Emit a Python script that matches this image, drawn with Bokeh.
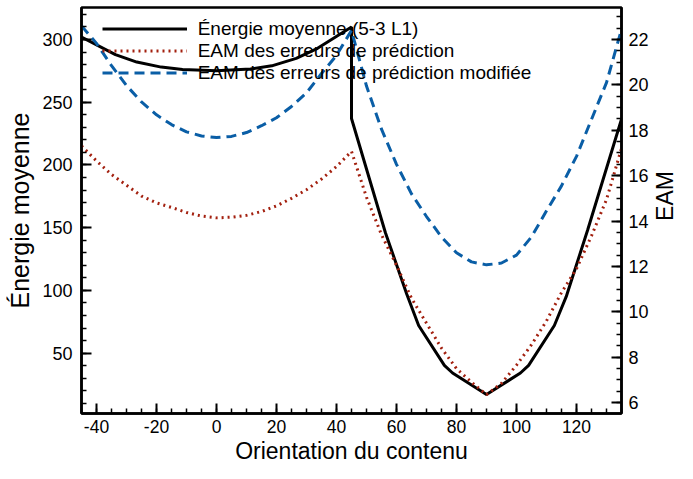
import math
from bokeh.plotting import figure
from bokeh.layouts import row
from bokeh.models import (Range1d, LinearAxis, SingleIntervalTicker, Legend, LegendItem,
                          PrintfTickFormatter, Title)
from bokeh.core.properties import value
from bokeh.embed import file_html
from bokeh.resources import INLINE

# --- data ---
energy_x = [-45, -33.69, -26.57, -18.43, -11.31, 0, 11.31, 18.43, 26.57, 33.69, 45,
            45, 56.31, 63.43, 67.38, 75.96, 78.69, 90, 101.31, 104.04, 112.62, 116.57, 123.69, 135]
energy_y = [302, 288, 282, 278, 276, 275, 276.5, 279, 285, 293, 310,
            237, 146, 97, 72, 40.3, 34.2, 17, 34.2, 40.3, 72, 95, 148, 236.5]

eam_x = [-45, -40, -35, -30, -25, -20, -15, -10, -5, 0, 5, 10, 15, 20, 25, 30, 35, 40, 45,
         50, 55, 60, 65, 70, 75, 80, 85, 90, 95, 100, 105, 110, 115, 120, 125, 130, 135]
eam_y = [17.31, 16.65, 16.05, 15.58, 15.1, 14.8, 14.6, 14.38, 14.22, 14.14, 14.17, 14.25, 14.42,
         14.67, 15.0, 15.38, 15.85, 16.4, 17.07,
         15.05, 13.4, 12.05, 10.6, 9.5, 8.4, 7.5, 6.9, 6.35, 6.85, 7.65, 8.55, 9.6, 10.85,
         11.9, 13.35, 14.95, 17.2]

eam_mod_x = eam_x
eam_mod_y = [22.6, 21.83, 20.85, 19.97, 19.25, 18.68, 18.25, 17.93, 17.75, 17.68, 17.73, 17.9,
             18.2, 18.55, 19.05, 19.65, 20.5, 21.3, 22.4,
             19.95, 18.05, 16.5, 15.2, 14.2, 13.3, 12.6, 12.2, 12.07, 12.15, 12.5, 13.3, 14.45,
             15.55, 16.85, 18.48, 20.1, 22.45]

labels = ["Énergie moyenne (5-3 L1)", "EAM des erreurs de prédiction",
          "EAM des erreurs de prédiction modifiée"]
x_title = "Orientation du contenu"
y_title = "Énergie moyenne"
y2_title = "EAM"

FONT = "Liberation Sans"
W, H = 651, 463
W2 = 677 - W
BL, BR, BT, BB = 81, 27, 7, 50
FW, FH = W - BL - BR, H - BT - BB

p = figure(width=W, height=H, output_backend="svg", toolbar_location=None,
           x_range=Range1d(-45, 135), y_range=Range1d(1.9, 325.5),
           min_border_left=BL, min_border_right=BR, min_border_top=BT, min_border_bottom=BB)
p.extra_y_ranges = {"eam": Range1d(5.52, 23.41)}

p.xgrid.visible = False
p.ygrid.visible = False
p.outline_line_color = "black"
p.outline_line_width = 2.5
p.background_fill_color = "white"
p.border_fill_color = "white"

r_energy = p.line(energy_x, energy_y, line_color="black", line_width=3)
r_eam = p.line(eam_x, eam_y, line_color="#a3200f", line_width=3, line_dash="2 4",
               y_range_name="eam")
r_mod = p.line(eam_mod_x, eam_mod_y, line_color="#0a5ea6", line_width=3, line_dash="10 6",
               y_range_name="eam")

right_axis = LinearAxis(y_range_name="eam")
p.add_layout(right_axis, "right")

p.xaxis.ticker = SingleIntervalTicker(interval=20, num_minor_ticks=4)
p.xaxis.formatter = PrintfTickFormatter(format="%d")
p.yaxis[0].ticker = SingleIntervalTicker(interval=50, num_minor_ticks=5)
right_axis.ticker = SingleIntervalTicker(interval=2, num_minor_ticks=4)

p.yaxis[0].axis_label = y_title

for ax in [p.xaxis[0], p.yaxis[0], right_axis]:
    ax.axis_line_color = "black"
    ax.axis_line_width = 2.5
    ax.major_tick_in = 10
    ax.major_tick_out = 0
    ax.minor_tick_in = 5
    ax.minor_tick_out = 0
    ax.major_tick_line_color = "black"
    ax.major_tick_line_width = 2
    ax.minor_tick_line_color = "black"
    ax.minor_tick_line_width = 1.5
    ax.major_label_text_font = FONT
    ax.major_label_text_font_size = "18px"
    ax.major_label_text_color = "black"
    ax.axis_label_text_font = FONT
    ax.axis_label_text_font_size = "25px"
    ax.axis_label_text_font_style = "normal"
    ax.axis_label_text_color = "black"
    ax.major_label_standoff = 9
    ax.axis_label_standoff = 5

p.xaxis[0].major_label_standoff = 6
p.xaxis[0].major_label_text_font_size = "17.5px"
right_axis.major_label_standoff = 7

# bottom title
p.add_layout(Title(text=x_title, align="center", text_font=FONT, text_font_size="23px",
                   text_font_style="normal", text_color="black", standoff=0), "below")

legend = Legend(items=[LegendItem(label=labels[0], renderers=[r_energy]),
                       LegendItem(label=labels[1], renderers=[r_eam]),
                       LegendItem(label=labels[2], renderers=[r_mod])],
                location=(20.7, FH - 76.5), orientation="vertical")
legend.border_line_alpha = 0
legend.background_fill_alpha = 0
legend.padding = 0
legend.margin = 0
legend.spacing = 0
legend.glyph_width = 85
legend.glyph_height = 21
legend.label_height = 21
legend.label_standoff = 11
legend.label_text_font = FONT
legend.label_text_font_size = "19px"
legend.label_text_color = "black"
p.add_layout(legend, "center")

# narrow strip holding the right axis title, read bottom to top
p2 = figure(width=W2, height=H, output_backend="svg", toolbar_location=None,
            x_range=Range1d(0, W2), y_range=Range1d(0, H),
            x_axis_type=None, y_axis_type=None,
            min_border_left=0, min_border_right=0, min_border_top=0, min_border_bottom=0)
p2.outline_line_color = None
p2.xgrid.visible = False
p2.ygrid.visible = False
p2.background_fill_color = "white"
p2.border_fill_color = "white"
p2.text(x=[W2 / 2], y=[H - 215], text=[y2_title], angle=math.pi / 2,
        text_font=value(FONT), text_font_size="23px", text_color="black",
        text_align="center", text_baseline="middle")

layout = row(p, p2, spacing=0)
open("out.html", "w").write(file_html(layout, INLINE))
